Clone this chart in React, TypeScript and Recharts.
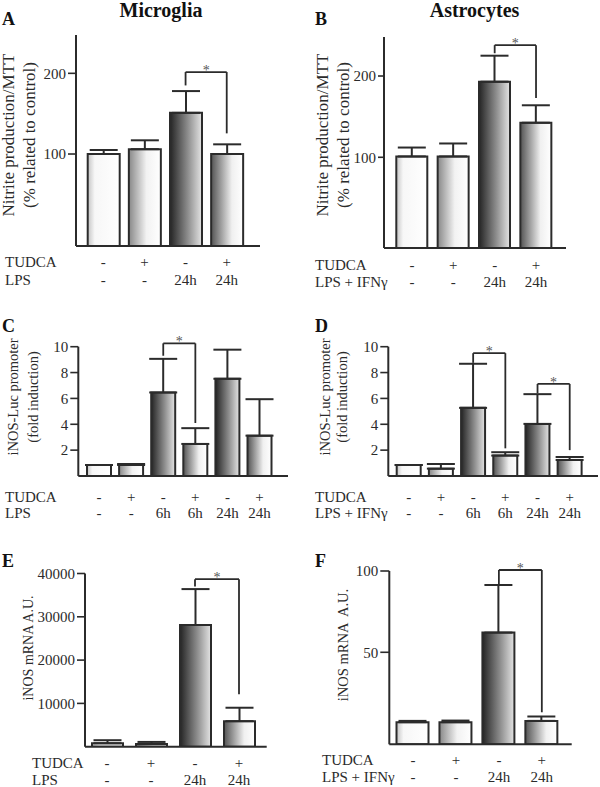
import React from 'react';
import { BarChart, Bar, XAxis, YAxis, ErrorBar, Cell, ReferenceLine } from 'recharts';

const FONT = 'Liberation Serif, serif';
const INK = '#2b2b2b';

// ---------- data ----------
const cats4 = ['Control', 'TUDCA', 'LPS', 'TUDCA+LPS'];
const cats4b = ['Control', 'TUDCA', 'LPS+IFNg', 'TUDCA+LPS+IFNg'];
const cats6 = ['Control', 'TUDCA', 'LPS 6h', 'TUDCA+LPS 6h', 'LPS 24h', 'TUDCA+LPS 24h'];
const kinds4 = ['ctrl', 'tudca', 'lps', 'both'];
const kinds6 = ['ctrl', 'tudca', 'lps', 'both', 'lps', 'both'];

const tudcaRow4 = ['-', '+', '-', '+'];
const lpsRow4 = ['-', '-', '24h', '24h'];
const tudcaRow6 = ['-', '+', '-', '+', '-', '+'];
const lpsRow6 = ['-', '-', '6h', '6h', '24h', '24h'];

// A: Microglia nitrite
const meansA = [100, 106, 151, 100];
const semsA = [5, 11, 27, 12];
// B: Astrocytes nitrite
const meansB = [101, 101, 193, 142.5];
const semsB = [11, 16, 32, 21.5];
// C: Microglia iNOS-Luc
const meansC = [0.85, 0.85, 6.46, 2.48, 7.52, 3.12];
const semsC = [0, 0.08, 2.6, 1.22, 2.25, 2.82];
// D: Astrocytes iNOS-Luc
const meansD = [0.85, 0.57, 5.27, 1.58, 4.03, 1.24];
const semsD = [0, 0.36, 3.41, 0.26, 2.3, 0.23];
// E: Microglia iNOS mRNA
const meansE = [800, 600, 28100, 5900];
const semsE = [700, 500, 8300, 3100];
// F: Astrocytes iNOS mRNA
const meansF = [7, 7, 62.1, 7.8];
const semsF = [0.8, 1, 29.3, 2.7];

const ticksA = [100, 200];
const ticksB = [100, 200];
const ticksCD = [2, 4, 6, 8, 10];
const ticksE = [10000, 20000, 30000, 40000];
const ticksF = [50, 100];

// significance brackets: [fromCat, toCat, leftLow, top, rightLow]
const bracketsA: [string, string, number, number, number][] = [['LPS', 'TUDCA+LPS', 185, 201.6, 125.6]];
const bracketsB: [string, string, number, number, number][] = [['LPS+IFNg', 'TUDCA+LPS+IFNg', 228, 238, 173]];
const bracketsC: [string, string, number, number, number][] = [['LPS 6h', 'TUDCA+LPS 6h', 9.3, 10.26, 4.1]];
const bracketsD: [string, string, number, number, number][] = [
  ['LPS 6h', 'TUDCA+LPS 6h', 8.75, 9.5, 2.14],
  ['LPS 24h', 'TUDCA+LPS 24h', 6.4, 7.12, 2.0],
];
const bracketsE: [string, string, number, number, number][] = [['LPS', 'TUDCA+LPS', 37000, 38700, 12100]];
const bracketsF: [string, string, number, number, number][] = [['LPS+IFNg', 'TUDCA+LPS+IFNg', 92, 100.6, 13.1]];

const GRADS: Record<string, [string, string][]> = {
  ctrl: [['0%', '#c4c4c4'], ['22%', '#f7f7f7'], ['100%', '#ffffff']],
  tudca: [['0%', '#888888'], ['55%', '#f2f2f2'], ['100%', '#ffffff']],
  lps: [['0%', '#242424'], ['55%', '#8c8c8c'], ['100%', '#e4e4e4']],
  both: [['0%', '#535353'], ['65%', '#f0f0f0'], ['100%', '#ffffff']],
};

type Box = { x: number; y: number; w: number; h: number };
type Plot = { l: number; r: number; t: number; b: number };

function Panel(props: {
  id: string;
  box: Box;
  plot: Plot;
  domain: [number, number];
  ticks: number[];
  tickSize: number;
  cats: string[];
  kinds: string[];
  means: number[];
  sems: number[];
  row1: string[];
  row2: string[];
  rowDy: [number, number];
  barSize: number;
  pad: [number, number];
  brackets: [string, string, number, number, number][];
}) {
  const { id, box, plot, domain, ticks, tickSize, cats, kinds, means, sems, row1, row2, rowDy, barSize, pad, brackets } = props;
  const xAxisH = 30;
  const yAxisW = 30;
  const margin = {
    top: plot.t - box.y,
    bottom: box.y + box.h - plot.b - xAxisH,
    left: plot.l - box.x - yAxisW,
    right: box.x + box.w - plot.r,
  };
  const data = cats.map((name, i) => ({ name, mean: means[i], sem: sems[i], kind: kinds[i] }));
  const base = domain[0];
  const renderTick = (p: any) => {
    const i = p.payload && p.payload.index != null ? p.payload.index : p.index;
    return (
      <g>
        <text x={p.x} y={p.y + rowDy[0]} textAnchor="middle" fontFamily={FONT} style={{ fontFamily: FONT }} fontSize={15} fill={INK}>
          {row1[i]}
        </text>
        <text x={p.x} y={p.y + rowDy[1]} textAnchor="middle" fontFamily={FONT} style={{ fontFamily: FONT }} fontSize={15} fill={INK}>
          {row2[i]}
        </text>
      </g>
    );
  };
  const lineProps = { stroke: INK, strokeWidth: 1.8, ifOverflow: 'visible' as const };
  return (
    <div style={{ position: 'absolute', left: box.x, top: box.y, fontFamily: FONT }}>
      <BarChart width={box.w} height={box.h} data={data} margin={margin} style={{ fontFamily: FONT }}>
        <defs>
          {Object.keys(GRADS).map((k) => (
            <linearGradient key={k} id={`${id}-${k}`} x1="0" y1="0" x2="1" y2="0">
              {GRADS[k].map(([o, c], j) => (
                <stop key={j} offset={o} stopColor={c} />
              ))}
            </linearGradient>
          ))}
        </defs>
        <XAxis
          dataKey="name"
          type="category"
          height={xAxisH}
          padding={{ left: pad[0], right: pad[1] }}
          tickLine={false}
          tickSize={0}
          tickMargin={0}
          interval={0}
          tick={renderTick}
          axisLine={{ stroke: INK, strokeWidth: 2 }}
        />
        <YAxis
          type="number"
          width={yAxisW}
          domain={domain}
          ticks={ticks}
          allowDataOverflow
          interval={0}
          tickSize={tickSize}
          tickMargin={2}
          tickLine={{ stroke: INK, strokeWidth: 1.6 }}
          axisLine={{ stroke: INK, strokeWidth: 2 }}
          tick={{ fontFamily: FONT, fontSize: 15, fill: INK }}
        />
        <Bar
          dataKey={(d: any) => [base, d.mean]}
          barSize={barSize}
          stroke={INK}
          strokeWidth={2}
          isAnimationActive={false}
        >
          {data.map((d, i) => (
            <Cell key={i} fill={`url(#${id}-${d.kind})`} />
          ))}
          <ErrorBar
            dataKey={(d: any) => [0, d.sem]}
            width={14}
            stroke={INK}
            strokeWidth={2}
            isAnimationActive={false}
          />
        </Bar>
        {brackets.map(([from, to, leftLow, top, rightLow], k) => [
          <ReferenceLine key={`l${k}`} segment={[{ x: from, y: leftLow }, { x: from, y: top }]} {...lineProps} />,
          <ReferenceLine
            key={`h${k}`}
            segment={[{ x: from, y: top }, { x: to, y: top }]}
            {...lineProps}
            label={{ value: '*', position: 'top', offset: -3, fill: '#555', fontSize: 14, fontFamily: FONT }}
          />,
          <ReferenceLine key={`r${k}`} segment={[{ x: to, y: top }, { x: to, y: rightLow }]} {...lineProps} />,
        ])}
      </BarChart>
    </div>
  );
}

function YLabel({ x, y, size, text }: { x: number; y: number; size: number; text: string }) {
  return (
    <text
      transform={`translate(${x},${y}) rotate(-90)`}
      textAnchor="middle"
      fontFamily={FONT}
      fontSize={size}
      fill={INK}
      style={{ whiteSpace: 'pre', fontFamily: FONT }}
    >
      {text}
    </text>
  );
}

function T({ x, y, size, text, bold, anchor }: { x: number; y: number; size: number; text: string; bold?: boolean; anchor?: string }) {
  return (
    <text
      x={x}
      y={y}
      fontFamily={FONT}
      fontSize={size}
      fontWeight={bold ? 'bold' : 'normal'}
      textAnchor={(anchor as any) || 'start'}
      fill={bold ? '#111' : INK}
      style={{ fontFamily: FONT }}
    >
      {text}
    </text>
  );
}

export default function App() {
  return (
    <div style={{ position: 'absolute', left: 0, top: 0, width: 600, height: 787, background: '#fff', overflow: 'hidden', fontFamily: FONT }}>
      <Panel
        id="A"
        box={{ x: 0, y: 0, w: 300, h: 300 }}
        plot={{ l: 76, r: 260, t: 35, b: 246 }}
        domain={[-14, 247.5]}
        ticks={ticksA}
        tickSize={8}
        cats={cats4}
        kinds={kinds4}
        means={meansA}
        sems={semsA}
        row1={tudcaRow4}
        row2={lpsRow4}
        rowDy={[21, 39]}
        barSize={32}
        pad={[6.7, 12.7]}
        brackets={bracketsA}
      />
      <Panel
        id="B"
        box={{ x: 300, y: 0, w: 300, h: 300 }}
        plot={{ l: 384, r: 566, t: 37, b: 248 }}
        domain={[-11.6, 248]}
        ticks={ticksB}
        tickSize={6}
        cats={cats4b}
        kinds={kinds4}
        means={meansB}
        sems={semsB}
        row1={tudcaRow4}
        row2={lpsRow4}
        rowDy={[22, 39]}
        barSize={31}
        pad={[7.3, 9.3]}
        brackets={bracketsB}
      />
      <Panel
        id="C"
        box={{ x: 0, y: 300, w: 300, h: 240 }}
        plot={{ l: 78.3, r: 288, t: 346.7, b: 476 }}
        domain={[0, 10]}
        ticks={ticksCD}
        tickSize={8}
        cats={cats6}
        kinds={kinds6}
        means={meansC}
        sems={semsC}
        row1={tudcaRow6}
        row2={lpsRow6}
        rowDy={[25.7, 42.3]}
        barSize={24}
        pad={[4.7, 12.4]}
        brackets={bracketsC}
      />
      <Panel
        id="D"
        box={{ x: 300, y: 300, w: 300, h: 240 }}
        plot={{ l: 388.3, r: 598, t: 346.7, b: 476 }}
        domain={[0, 10]}
        ticks={ticksCD}
        tickSize={8}
        cats={cats6}
        kinds={kinds6}
        means={meansD}
        sems={semsD}
        row1={tudcaRow6}
        row2={lpsRow6}
        rowDy={[25.7, 42.3]}
        barSize={24}
        pad={[4.4, 12.2]}
        brackets={bracketsD}
      />
      <Panel
        id="E"
        box={{ x: 0, y: 550, w: 300, h: 237 }}
        plot={{ l: 85, r: 266.7, t: 573.5, b: 746.7 }}
        domain={[0, 40000]}
        ticks={ticksE}
        tickSize={8}
        cats={cats4}
        kinds={kinds4}
        means={meansE}
        sems={semsE}
        row1={tudcaRow4}
        row2={lpsRow4}
        rowDy={[21.6, 38.3]}
        barSize={31}
        pad={[0, 5.7]}
        brackets={bracketsE}
      />
      <Panel
        id="F"
        box={{ x: 300, y: 550, w: 300, h: 237 }}
        plot={{ l: 389.3, r: 571.7, t: 571, b: 744.3 }}
        domain={[-6.6, 100]}
        ticks={ticksF}
        tickSize={9}
        cats={cats4b}
        kinds={kinds4}
        means={meansF}
        sems={semsF}
        row1={tudcaRow4}
        row2={lpsRow4}
        rowDy={[20.7, 37.4]}
        barSize={32}
        pad={[2.2, 8.4]}
        brackets={bracketsF}
      />
      <svg
        width={600}
        height={787}
        style={{ position: 'absolute', left: 0, top: 0, pointerEvents: 'none' }}
      >
        <T x={161} y={17} size={20} text="Microglia" bold anchor="middle" />
        <T x={474.5} y={17} size={20} text="Astrocytes" bold anchor="middle" />
        <T x={2} y={25} size={18} text="A" bold />
        <T x={315} y={25} size={18} text="B" bold />
        <T x={2} y={332} size={18} text="C" bold />
        <T x={315} y={332} size={18} text="D" bold />
        <T x={2} y={567} size={18} text="E" bold />
        <T x={315} y={567} size={18} text="F" bold />

        <YLabel x={14} y={135} size={17} text="Nitrite production/MTT" />
        <YLabel x={35} y={135} size={17} text="(% related to control)" />
        <YLabel x={328} y={135} size={17} text="Nitrite production/MTT" />
        <YLabel x={349} y={135} size={17} text="(% related to control)" />
        <YLabel x={18} y={397} size={14.5} text="iNOS-Luc promoter" />
        <YLabel x={38} y={397} size={14.5} text="(fold induction)" />
        <YLabel x={330} y={397} size={14.5} text="iNOS-Luc promoter" />
        <YLabel x={347} y={397} size={14.5} text="(fold induction)" />
        <YLabel x={33} y={648} size={14} text="iNOS mRNA A.U." />
        <YLabel x={348} y={645} size={14.5} text="iNOS mRNA  A.U." />

        <T x={5} y={267} size={15} text="TUDCA" />
        <T x={5} y={285} size={15} text="LPS" />
        <T x={315} y={270} size={15} text="TUDCA" />
        <T x={315} y={287} size={15} text="LPS + IFNγ" />
        <T x={5} y={501.7} size={15} text="TUDCA" />
        <T x={5} y={518.3} size={15} text="LPS" />
        <T x={315} y={501.7} size={15} text="TUDCA" />
        <T x={315} y={518.3} size={15} text="LPS + IFNγ" />
        <T x={32} y={768} size={15} text="TUDCA" />
        <T x={32} y={785} size={15} text="LPS" />
        <T x={322} y={765} size={15} text="TUDCA" />
        <T x={322} y={781.7} size={15} text="LPS + IFNγ" />
      </svg>
    </div>
  );
}
